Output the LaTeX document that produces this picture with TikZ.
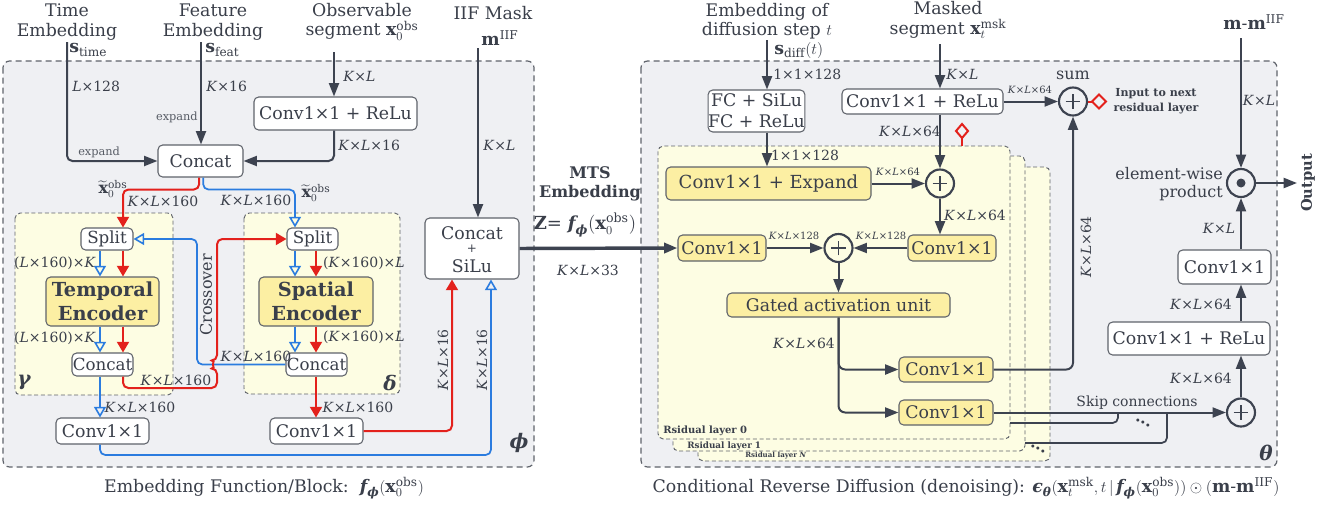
\documentclass[tikz,border=0pt]{standalone}
\usepackage{amsmath}
\usepackage{fontspec}
\setmainfont{DejaVu Serif}
\usetikzlibrary{arrows.meta}
\definecolor{txt}{HTML}{3A3F4A}
\definecolor{lnc}{HTML}{3D4350}
\definecolor{bord}{HTML}{5F636B}
\definecolor{panel}{HTML}{EFF0F3}
\definecolor{yel}{HTML}{FCEFA3}
\definecolor{pale}{HTML}{FDFDE3}
\definecolor{rd}{HTML}{E3211C}
\definecolor{bl}{HTML}{2B7CDF}
\newcommand\myfs[1]{\fontsize{#1}{#1}\selectfont}
\newcommand\myK{\textit{K}}
\newcommand\myL{\textit{L}}
\newcommand\xobs{\mathbf{x}_0^{\mathrm{obs}}}
\newcommand\bi[1]{\text{\bfseries\itshape #1}}
\newcommand\fphi{\bi{f}_{\bi{ϕ}}}
\tikzset{
  every node/.style={text=txt, inner sep=0pt},
  sz/.style 2 args={minimum width=#1*0.75pt, minimum height=#2*0.75pt},
  panelbox/.style={draw=bord, dash pattern=on 4.5pt off 3pt, line width=0.9pt, fill=panel, rounded corners=5pt},
  subbox/.style={draw=bord, dash pattern=on 3pt off 2pt, line width=0.7pt, fill=pale, rounded corners=4pt},
  box/.style={draw=bord, line width=0.8pt, fill=white, rounded corners=3.5pt, font=\myfs{13}},
  ybox/.style={box, fill=yel},
  circ/.style={circle, draw=lnc, line width=1.6pt, minimum size=21pt},
  arr/.style={draw=lnc, line width=1.5pt, -{Triangle[length=10pt,width=7.5pt]}},
  lnst/.style={draw=lnc, line width=1.5pt},
  rarr/.style={draw=rd, line width=1.5pt, -{Triangle[length=8pt,width=9pt]}},
  barr/.style={draw=bl, line width=1.3pt, -{Triangle[open,length=8pt,width=9pt,line width=1.2pt]}},
  lab/.style={font=\myfs{10.5}},
  slab/.style={font=\myfs{7.5}},
  ttl/.style={font=\fontsize{13}{14.5}\selectfont, align=center},
  greek/.style={font=\myfs{15}\bfseries\itshape}
}
\begin{document}
\begin{tikzpicture}[x=0.75pt,y=-0.75pt]
\useasboundingbox (0,0) rectangle (1318,504);
\fill[white] (0,0) rectangle (1318,504);

% ---------- panels ----------
\draw[panelbox] (3,61) rectangle (534,467);
\draw[panelbox] (641,61) rectangle (1277,467);
\draw[subbox] (15,213) rectangle (173,395);
\draw[subbox] (244,213) rectangle (400,394);
\draw[subbox] (698,167) rectangle (1050,461);
\draw[subbox] (673,156) rectangle (1025,451);
\draw[subbox] (658,146) rectangle (1010,439);

% ---------- titles ----------
\node[ttl] (tT) at (67,22) {Time\\Embedding};
\node[anchor=west, font=\myfs{13}] (sT) at (69,50) {$\mathbf{s}_{\mathrm{time}}$};
\node[ttl] (fT) at (213,22) {Feature\\Embedding};
\node[anchor=west, font=\myfs{13}] (sF) at (205,50) {$\mathbf{s}_{\mathrm{feat}}$};
\node[ttl] (oT) at (362,22) {Observable\\segment $\xobs$};
\node[font=\myfs{13}] (iT) at (493,13) {IIF Mask};
\node[font=\myfs{13}] (iM) at (500,38) {$\mathbf{m}^{\mathrm{IIF}}$};
\node[ttl] (dT) at (767,21) {Embedding of\\diffusion step $t$};
\node[anchor=west, font=\myfs{13}] (sD) at (774,50) {$\mathbf{s}_{\mathrm{diff}}(t)$};
\node[ttl] (mT) at (948,20) {Masked\\segment $\mathbf{x}_t^{\mathrm{msk}}$};
\node[font=\myfs{13}] (mmT) at (1254,22) {$\mathbf{m}$-$\mathbf{m}^{\mathrm{IIF}}$};

% ---------- left nodes ----------
\node[box, sz={163}{33}] (conv1) at (335.5,113.5) {Conv1×1 + ReLu};
\node[box, sz={85}{32}] (cat0) at (200.5,161) {Concat};
\node[box, sz={52}{22}, font=\myfs{12.5}] (tsplit) at (107,239) {Split};
\node[ybox, sz={113}{49}, align=center, font=\fontsize{14.5}{18}\selectfont\bfseries] (tenc) at (102.5,301.5) {Temporal\\Encoder};
\node[box, sz={61}{23}, font=\myfs{12.5}] (tcat) at (102.5,364.5) {Concat};
\node[box, sz={51}{22}, font=\myfs{12.5}] (ssplit) at (312.5,239) {Split};
\node[ybox, sz={114}{49}, align=center, font=\fontsize{14.5}{18}\selectfont\bfseries] (senc) at (316,301.5) {Spatial\\Encoder};
\node[box, sz={61}{23}, font=\myfs{12.5}] (scat) at (316.5,364.5) {Concat};
\node[box, sz={93}{26}] (convL) at (102.5,431) {Conv1×1};
\node[box, sz={93}{26}] (convR) at (316.5,431) {Conv1×1};
\node[box, sz={94}{61}] (cs) at (472,248.5) {};
\node[font=\myfs{13}] (csa) at (472,233) {Concat};
\node[font=\myfs{9}] (csb) at (472,249) {+};
\node[font=\myfs{13}] (csc) at (472,266) {SiLu};

% ---------- right nodes ----------
\node[box, sz={91}{42}, align=center, font=\fontsize{13}{16}\selectfont] (fc) at (756.5,111) {FC + SiLu\\FC + ReLu};
\node[box, sz={161}{25}] (ctop) at (922.5,101.5) {Conv1×1 + ReLu};
\node[circ] (sum) at (1073,101.5) {};
\node[circ] (p1) at (940,183.5) {};
\node[ybox, sz={205}{33}, font=\myfs{13.5}] (exp) at (768.5,183.5) {Conv1×1 + Expand};
\node[ybox, sz={88}{26}] (cRm) at (952,248) {Conv1×1};
\node[ybox, sz={88}{26}] (cLm) at (722,248) {Conv1×1};
\node[circ] (p2) at (838.5,248) {};
\node[ybox, sz={223}{24}] (gau) at (838.5,305) {Gated activation unit};
\node[ybox, sz={94}{25}] (cA) at (946,369.5) {Conv1×1};
\node[ybox, sz={94}{25}] (cB) at (946,412.5) {Conv1×1};
\node[circ] (p3) at (1241,412.5) {};
\node[box, sz={162}{33}] (cr2) at (1189,338.5) {Conv1×1 + ReLu};
\node[box, sz={93}{34}] (c2) at (1224.5,267) {Conv1×1};
\node[circ] (prod) at (1241,183) {};
\fill[lnc] (prod.center) circle (4.5);
\foreach \c in {sum,p1,p2,p3}
  \draw[lnc, line width=1.3pt] ([xshift=-5.5pt]\c.center) -- ([xshift=5.5pt]\c.center)
     ([yshift=-5.5pt]\c.center) -- ([yshift=5.5pt]\c.center);

% free ends
\coordinate (tTime) at (67,42);
\coordinate (tFeat) at (201,42);
\coordinate (tObs) at (334,52);
\coordinate (tIIF) at (478,48);
\coordinate (tDiff) at (767,40);
\coordinate (tMsk) at (940,44);
\coordinate (tMM) at (1241,38);
\coordinate (outE) at (1297,183);

% ---------- left connectors ----------
\draw[arr, rounded corners=4pt] (tTime) |- (cat0.west);
\draw[arr] (tFeat) -- (tFeat |- cat0.north);
\draw[arr] (tObs) -- (tObs |- conv1.north);
\draw[arr, rounded corners=4pt] (tObs |- conv1.south) |- (cat0.east);
\draw[arr] (tIIF) -- (tIIF |- cs.north);

\draw[rarr, rounded corners=4pt] ([xshift=-1pt]cat0.south) -- ++(0,12) -| (123,0 |- tsplit.north);
\draw[barr, rounded corners=4pt] ([xshift=2pt]cat0.south) -- ++(0,12) -| (295,0 |- ssplit.north);

\draw[barr] (100,0 |- tsplit.south) -- (100,0 |- tenc.north);
\draw[rarr] (123,0 |- tsplit.south) -- (123,0 |- tenc.north);
\draw[barr] (100,0 |- tenc.south) -- (100,0 |- tcat.north);
\draw[rarr] (123,0 |- tenc.south) -- (123,0 |- tcat.north);
\draw[barr] (295,0 |- ssplit.south) -- (295,0 |- senc.north);
\draw[rarr] (316,0 |- ssplit.south) -- (316,0 |- senc.north);
\draw[barr] (295,0 |- senc.south) -- (295,0 |- scat.north);
\draw[rarr] (316,0 |- senc.south) -- (316,0 |- scat.north);
\draw[barr] (100,0 |- tcat.south) -- (100,0 |- convL.north);
\draw[rarr] (316,0 |- scat.south) -- (316,0 |- convR.north);

\draw[barr, rounded corners=4pt] (scat.west) -- (197,0 |- scat.west) -- (197,0 |- tsplit.east) -- (tsplit.east);
\draw[rarr, rounded corners=4pt] (123,0 |- tcat.south) -- (123,388) -- (217,388) -- (217,368.5)
   arc[start angle=90,end angle=270,radius=4] -- (217,0 |- ssplit.west) -- (ssplit.west);

\draw[rarr, rounded corners=4pt] (convR.east) -| (452,0 |- cs.south);
\draw[barr, rounded corners=4pt] (100,0 |- convL.south) |- (491,455) -- (491,0 |- cs.south);

\draw[arr, line width=2.6pt] (cs.east) -- (cLm.west);

% ---------- right connectors ----------
\draw[arr] (tDiff) -- (tDiff |- fc.north);
\draw[arr] (tDiff |- fc.south) -- (tDiff |- exp.north);
\draw[arr] (tMsk) -- (tMsk |- ctop.north);
\draw[arr] (tMsk |- ctop.south) -- (p1.north);
\draw[arr] (ctop.east) -- (sum.west);
\draw[arr] (exp.east) -- (p1.west);
\draw[arr] (p1.south) -- (p1.south |- cRm.north);
\draw[arr] (cLm.east) -- (p2.west);
\draw[arr] (cRm.west) -- (p2.east);
\draw[arr] (p2.south) -- (gau.north);
\draw[arr, rounded corners=5pt] (gau.south) |- (cA.west);
\draw[arr, rounded corners=5pt] (gau.south) |- (cB.west);
\draw[arr, rounded corners=5pt] (cA.east) -| (sum.south);
\draw[arr] (cB.east) -- (p3.west);
\draw[lnst, line width=1.3pt, rounded corners=4pt] (1010,423) -| (1118,412.5);
\draw[lnst, line width=1.3pt, rounded corners=4pt] (1025,443) -| (1167,412.5);
\draw[arr] (p3.north) -- (p3.north |- cr2.south);
\draw[arr] (p3.north |- cr2.north) -- (p3.north |- c2.south);
\draw[arr] (p3.north |- c2.north) -- (prod.south);
\draw[arr] (tMM) -- (prod.north);
\draw[arr] (prod.east) -- (outE);

% red markers
\draw[rd, line width=1.5pt] (sum.east) -- (1092,101.5);
\draw[rd, line width=1.5pt, fill=panel] (1092,101.5) -- (1099,94.5) -- (1106,101.5) -- (1099,108.5) -- cycle;
\draw[rd, line width=1.5pt] (962,146) -- (962,138);
\draw[rd, line width=1.5pt, fill=panel] (962,138) -- (968,131) -- (962,124) -- (956,131) -- cycle;

% ---------- labels left ----------
\node[lab, anchor=west] at (72,86) {\myL×128};
\node[lab, anchor=west] at (206,86) {\myK×16};
\node[font=\myfs{8.5}, text=txt!85, anchor=east] at (198,117) {expand};
\node[font=\myfs{8.5}, text=txt!85, anchor=west] at (78,152) {expand};
\node[lab, anchor=west] at (343,76) {\myK×\myL};
\node[lab, anchor=west] at (338,145) {\myK×\myL×16};
\node[lab, anchor=west] at (483,145) {\myK×\myL};
\node[font=\myfs{12}] at (113,189) {$\widetilde{\mathbf{x}}_0^{\mathrm{obs}}$};
\node[lab] at (163,201) {\myK×\myL×160};
\node[lab] at (256,200) {\myK×\myL×160};
\node[font=\myfs{12}] at (316,193) {$\widetilde{\mathbf{x}}_0^{\mathrm{obs}}$};
\node[lab] at (55,263) {(\myL×160)×\myK};
\node[lab] at (55,338) {(\myL×160)×\myK};
\node[lab] at (364,263) {(\myK×160)×\myL};
\node[lab] at (364,337) {(\myK×160)×\myL};
\node[lab] at (176,380) {\myK×\myL×160};
\node[lab] at (256,356) {\myK×\myL×160};
\node[lab] at (140,407) {\myK×\myL×160};
\node[lab] at (358,407) {\myK×\myL×160};
\node[font=\myfs{12}, rotate=90] at (206,295) {Crossover};
\node[lab, rotate=90] at (443,360) {\myK×\myL×16};
\node[lab, rotate=90] at (482,360) {\myK×\myL×16};
\node[greek] at (24,382) {γ};
\node[greek] at (390,383) {δ};
\node[greek] at (519,443) {ϕ};
\node[font=\myfs{12}\bfseries] at (590,173) {MTS};
\node[font=\myfs{12}\bfseries] at (590,193) {Embedding};
\node[font=\myfs{13.5}] at (585,225) {$\mathbf{Z}$= $\fphi(\xobs)$};
\node[lab] at (588,270) {\myK×\myL×33};

% ---------- labels right ----------
\node[lab, anchor=west] at (773,74) {1×1×128};
\node[lab, anchor=west] at (946,74) {\myK×\myL};
\node[slab] at (1030,90) {\myK×\myL×64};
\node[font=\myfs{12}] at (1073,75) {sum};
\node[font=\fontsize{8.3}{11}\selectfont\bfseries, align=center] at (1156,101) {Input to next\\residual layer};
\node[lab] at (910,131) {\myK×\myL×64};
\node[lab] at (805,155) {1×1×128};
\node[slab] at (898,172) {\myK×\myL×64};
\node[lab] at (975,215) {\myK×\myL×64};
\node[slab] at (794,236) {\myK×\myL×128};
\node[slab] at (881,236) {\myK×\myL×128};
\node[lab] at (804,343) {\myK×\myL×64};
\node[lab, rotate=90] at (1086,247) {\myK×\myL×64};
\node[font=\myfs{10.5}] at (1137,403) {Skip connections};
\node[lab] at (1201,378) {\myK×\myL×64};
\node[lab] at (1201,304) {\myK×\myL×64};
\node[lab] at (1219,228) {\myK×\myL};
\node[lab] at (1259,100) {\myK×\myL};
\node[font=\fontsize{12}{13}\selectfont, align=right, anchor=east] at (1223,184) {element-wise\\product};
\node[font=\myfs{11}\bfseries, rotate=90] at (1308,183) {Output};
\node[greek] at (1266,453) {θ};
\node[font=\myfs{7.5}\bfseries, anchor=west] at (663,431) {Rsidual layer 0};
\node[font=\myfs{6.6}\bfseries, anchor=west] at (687,446) {Rsidual layer 1};
\node[font=\myfs{5.3}\bfseries, anchor=west] at (745,456) {Rsidual layer \textit{N}};
\node[font=\myfs{12}\bfseries, rotate=-25] at (1143,423) {...};
\node[font=\myfs{12}\bfseries, rotate=-25] at (1038,449) {...};

% ---------- captions ----------
\node[font=\myfs{13}] at (264,488) {Embedding Function/Block:\ \ $\fphi(\xobs)$};
\node[font=\myfs{13}] at (966,488) {Conditional Reverse Diffusion (denoising): $\bi{ϵ}_{\bi{θ}}(\mathbf{x}_t^{\mathrm{msk}}, t\,|\,\fphi(\xobs))\odot(\mathbf{m}\text{-}\mathbf{m}^{\mathrm{IIF}})$};
\end{tikzpicture}
\end{document}
